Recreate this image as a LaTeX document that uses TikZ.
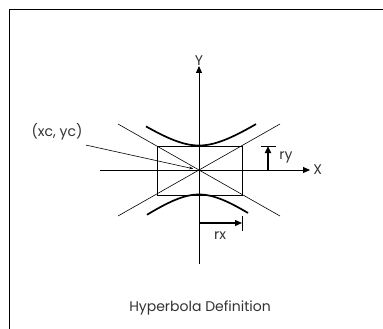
\documentclass[tikz,border=0pt]{standalone}
\usepackage{fontspec}
\setmainfont{Poppins}
\usetikzlibrary{arrows.meta, positioning, calc}

\begin{document}
\begin{tikzpicture}[x=1pt, y=-1pt, line width=0.9pt, >={Triangle[length=7pt,width=6pt]},
    font=\fontsize{14}{16}\selectfont, text=black!80,
    branch/.style={line width=1.7pt, smooth, samples=60, variable=\t},
    asym/.style={line width=0.6pt}]
    \useasboundingbox (0,0) rectangle (383,329);

    % Frame
    \draw (9,329) -- (9,9) -- (383,9);

    % Axes
    \coordinate (ctr) at (199,170);
    \coordinate (ybot) at (199,264);
    \coordinate (ytop) at (199,66);
    \coordinate (xlft) at (100,170);
    \coordinate (xrgt) at (310,170);
    \draw[->] (ybot) -- (ytop) node[above, inner sep=0pt] (ylab) {Y};
    \draw[->] (xlft) -- (xrgt) node[right, inner sep=3pt] (xlab) {X};

    % Box
    \coordinate (boxa) at (157,146);
    \coordinate (boxb) at (242,195);
    \draw (boxa) rectangle (boxb);

    % Asymptotes
    \coordinate (asa) at (118,124);
    \coordinate (asb) at (280,216);
    \coordinate (asc) at (118,216);
    \coordinate (asd) at (280,124);
    \draw[asym] (asa) -- (asb);
    \draw[asym] (asc) -- (asd);

    % Hyperbola branches
    \draw[branch, domain=-53:57] plot ({199+\t}, {170-24.5*sqrt(1+(\t/36)^2)});
    \draw[branch, domain=-52:49] plot ({199+\t}, {170+24.5*sqrt(1+(\t/34)^2)});

    % Centre label
    \node (ctrlab) at (57,132) {(xc, yc)};
    \draw[-{Stealth[length=4pt,width=3pt]}, line width=0.6pt, shorten >=6pt]
        ($(ctrlab.south east)+(0,1)$) -- (ctr);

    % ry
    \coordinate (rybot) at (268,170);
    \coordinate (rytop) at (268,146);
    \coordinate (rybara) at (261,146);
    \coordinate (rybarb) at (276,146);
    \draw[->, line width=1.7pt] (rybot) -- (rytop);
    \draw (rybara) -- (rybarb);
    \node (rylab) at (286,157) {ry};

    % rx
    \coordinate (rxlft) at (199,223);
    \coordinate (rxrgt) at (242,223);
    \coordinate (rxbara) at (242,216);
    \coordinate (rxbarb) at (242,231);
    \draw[->, line width=1.2pt] (rxlft) -- (rxrgt);
    \draw (rxbara) -- (rxbarb);
    \node (rxlab) at (220,236) {rx};

    % Caption
    \node (cap) at (200,308) {Hyperbola Definition};
\end{tikzpicture}
\end{document}
